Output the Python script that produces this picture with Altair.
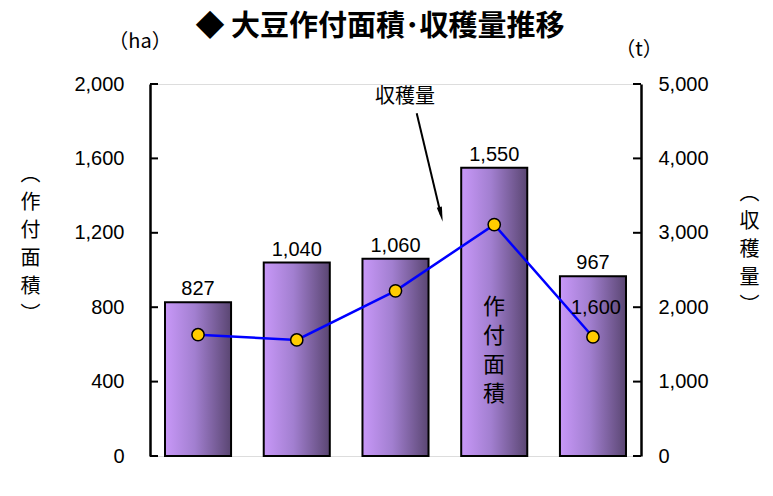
import altair as alt
import pandas as pd

# ---- data ----
years = ["平.2年", "7", "12", "17", "20"]
area_ha = [827, 1040, 1060, 1550, 967]
harvest_t = [1630, 1560, 2220, 3110, 1600]
left_ticks = [0, 400, 800, 1200, 1600, 2000]
right_ticks = [0, 1000, 2000, 3000, 4000, 5000]

W, H = 491, 372
NUM_FONT = "Liberation Sans"
JP_FONT = "Noto Sans CJK JP"

df = pd.DataFrame({"year": years, "area": area_ha, "harvest": harvest_t})
df["idx"] = list(range(len(years)))
lt = pd.DataFrame({"v": left_ticks})
rt = pd.DataFrame({"v": right_ticks})


def one():
    return alt.Data(values=[{"a": 1}])


x_enc = alt.X(
    "year:N", sort=years,
    scale=alt.Scale(paddingInner=0.331, paddingOuter=0.152),
    axis=alt.Axis(title=None, labelFont=JP_FONT, labelFontSize=18, labelColor="black",
                  labelPadding=18, ticks=False, tickSize=0, domainColor="black",
                  domainWidth=2.5, labelAngle=0),
)
x_plain = alt.X("year:N", sort=years, axis=None)
yl_scale = alt.Scale(domain=[0, 2000], nice=False, zero=True)
yr_scale = alt.Scale(domain=[0, 5000], nice=False, zero=True)

grad = alt.Gradient(
    gradient="linear",
    stops=[alt.GradientStop(color="#c898f8", offset=0),
           alt.GradientStop(color="#a27fd0", offset=0.45),
           alt.GradientStop(color="#5a4672", offset=1)],
    x1=0, x2=1, y1=0, y2=0,
)

bars = alt.Chart(df).mark_bar(fill=grad, stroke="black", strokeWidth=2).encode(
    x=x_enc,
    y=alt.Y("area:Q", scale=yl_scale,
            axis=alt.Axis(values=left_ticks, format=",d", grid=False, ticks=False,
                          labelPadding=26, labelFont=NUM_FONT, labelFontSize=20,
                          labelColor="black", domainColor="black", domainWidth=2.5,
                          orient="left",
                          title=["︵", "作", "付", "面", "積", "︶"], titleAngle=0,
                          titleX=-120, titleY=80, titleAlign="center", titleBaseline="top",
                          titleLineHeight=28, titleFont=JP_FONT, titleFontSize=20,
                          titleFontWeight="normal", titleColor="black")),
)
bar_labels = alt.Chart(df).mark_text(font=NUM_FONT, fontSize=20, color="black",
                                     baseline="bottom", dy=-3).encode(
    x=x_plain,
    y=alt.Y("area:Q", scale=yl_scale, axis=None),
    text=alt.Text("area:Q", format=",d"),
)
lticks = alt.Chart(lt).mark_rule(color="black", strokeWidth=2).encode(
    y=alt.Y("v:Q", scale=yl_scale, axis=None),
    x=alt.value(0), x2=alt.value(8),
)

line = alt.Chart(df).mark_line(color="#0000ff", strokeWidth=2.5).encode(
    x=x_plain,
    y=alt.Y("harvest:Q", scale=yr_scale,
            axis=alt.Axis(values=right_ticks, format=",d", grid=False, ticks=False,
                          labelPadding=17, labelFont=NUM_FONT, labelFontSize=20,
                          labelColor="black", domainColor="black", domainWidth=2.5,
                          orient="right",
                          title=["︵", "収", "穫", "量", "︶"], titleAngle=0,
                          titleX=108, titleY=99, titleAlign="center", titleBaseline="top",
                          titleLineHeight=28, titleFont=JP_FONT, titleFontSize=20,
                          titleFontWeight="normal", titleColor="black")),
)
points = alt.Chart(df).mark_circle(color="#ffcc00", opacity=1, stroke="black",
                                   strokeWidth=1.5, size=150).encode(
    x=x_plain,
    y=alt.Y("harvest:Q", scale=yr_scale, axis=None),
)
pt_label = alt.Chart(df).transform_filter("datum.idx == 4").mark_text(
    font=NUM_FONT, fontSize=20, color="black", baseline="middle", dy=-29, dx=3).encode(
    x=x_plain,
    y=alt.Y("harvest:Q", scale=yr_scale, axis=None),
    text=alt.Text("harvest:Q", format=",d"),
)
rticks = alt.Chart(rt).mark_rule(color="black", strokeWidth=2).encode(
    y=alt.Y("v:Q", scale=yr_scale, axis=None),
    x=alt.value(W - 8), x2=alt.value(W),
)

# ---- annotations ----
title = alt.Chart(one()).mark_text(font=JP_FONT, fontSize=29, fontWeight="bold",
                                   color="black", align="center", baseline="middle").encode(
    x=alt.value(230), y=alt.value(-57), text=alt.value("◆  大豆作付面積･収穫量推移"))
ha = alt.Chart(one()).mark_text(font=JP_FONT, fontSize=20, color="black",
                                align="center", baseline="middle").encode(
    x=alt.value(-10), y=alt.value(-42), text=alt.value("（ha）"))
tt = alt.Chart(one()).mark_text(font=JP_FONT, fontSize=20, color="black",
                                align="center", baseline="middle").encode(
    x=alt.value(489), y=alt.value(-34), text=alt.value("（t）"))
ann = alt.Chart(one()).mark_text(font=JP_FONT, fontSize=20, color="black",
                                 align="center", baseline="middle").encode(
    x=alt.value(255), y=alt.value(13), text=alt.value("収穫量"))
arrow_line = alt.Chart(one()).mark_rule(color="black", strokeWidth=2).encode(
    x=alt.value(266.7), y=alt.value(29.3), x2=alt.value(291), y2=alt.value(131))
arrow_head = alt.Chart(one()).mark_point(shape="M-0.35,-1L0.35,-1L0,1Z", filled=True,
                                         color="black", opacity=1, size=225,
                                         angle=347).encode(
    x=alt.value(291), y=alt.value(130.4))
series_lbl = alt.Chart(one()).mark_text(font=JP_FONT, fontSize=22, color="black",
                                        align="center", baseline="top", lineBreak="\n",
                                        lineHeight=29).encode(
    x=alt.value(344), y=alt.value(213), text=alt.value("作\n付\n面\n積"))

chart = alt.layer(
    bars, line, lticks, rticks, bar_labels, points, pt_label,
    series_lbl, title, ha, tt, ann, arrow_line, arrow_head,
).resolve_scale(y="independent").properties(
    width=W, height=H,
    autosize=alt.AutoSizeParams(type="none"),
    padding={"left": 142, "top": 76, "right": 124, "bottom": 30},
).configure_view(strokeWidth=0).configure(background="white")

chart.save("out.html", embed_options={"renderer": "svg", "actions": False})
